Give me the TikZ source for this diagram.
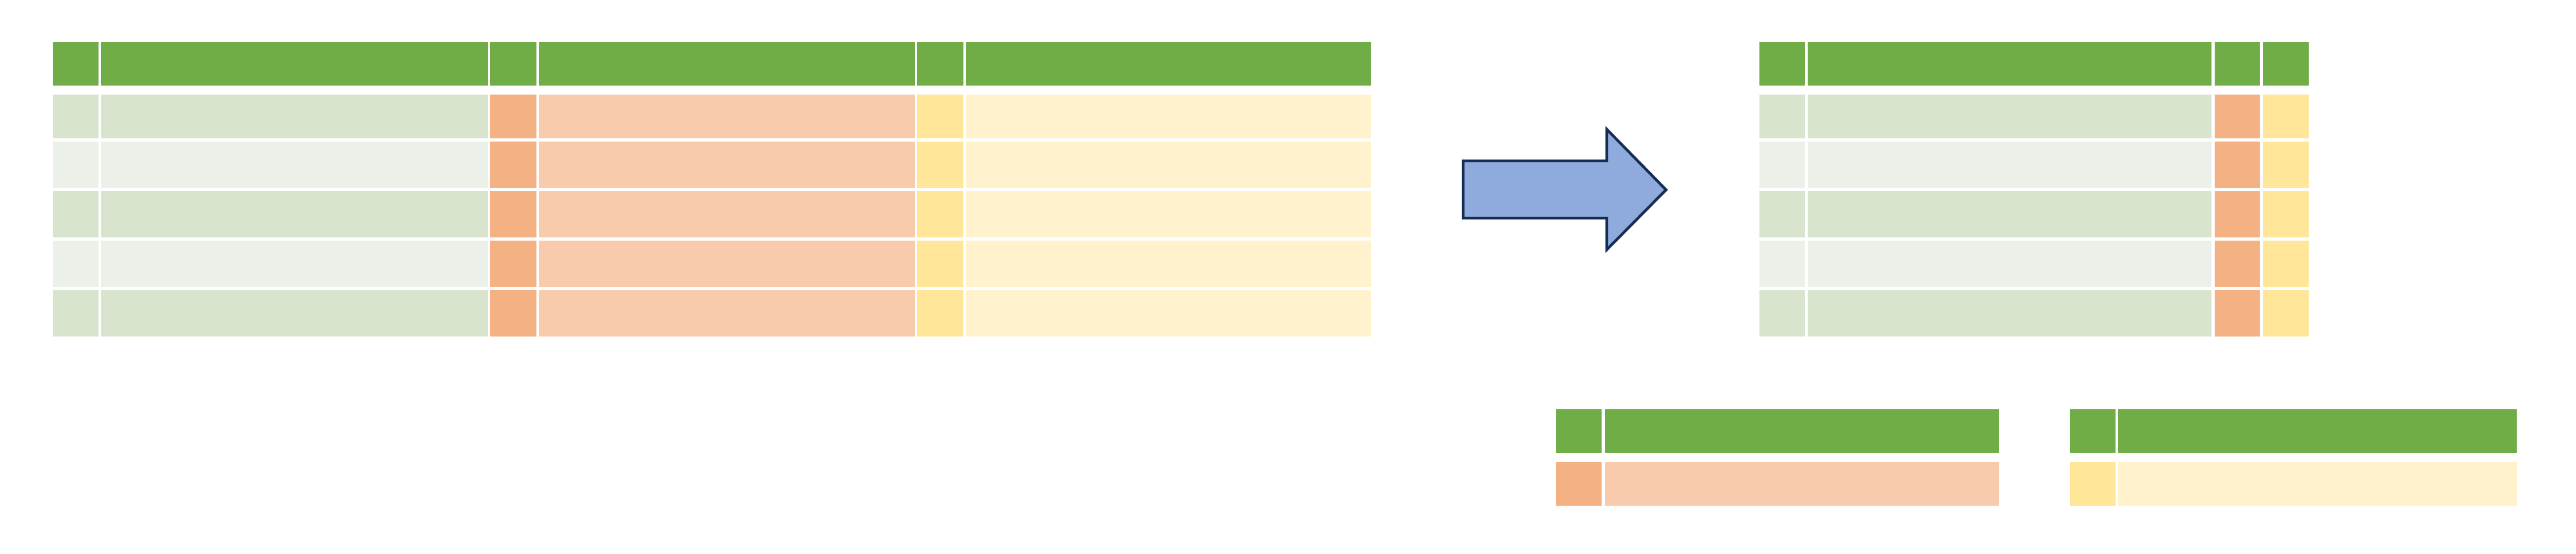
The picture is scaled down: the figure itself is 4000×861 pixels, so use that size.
\documentclass[tikz,border=0pt]{standalone}
\usepackage{xcolor}
\usepackage{tikz}
\definecolor{hdrgreen}{HTML}{70AD47}
\definecolor{bandgreenA}{HTML}{D8E4CE}
\definecolor{bandgreenB}{HTML}{EBF0E8}
\definecolor{keyorange}{HTML}{F4B183}
\definecolor{valorange}{HTML}{F8CBAD}
\definecolor{keyyellow}{HTML}{FFE699}
\definecolor{valyellow}{HTML}{FFF2CC}
\definecolor{arrowfill}{HTML}{8FAADC}
\definecolor{arrowline}{HTML}{172C51}
\tikzset{
    hdrcell/.style={
        fill=hdrgreen
    },
    splitarrow/.style={
        fill=arrowfill,
        draw=arrowline,
        line width=1.2pt,
        line join=miter
    }
}

\begin{document}
\begin{tikzpicture}[x=0.01cm, y=-0.01cm]
\useasboundingbox (0,0) rectangle (4000,861);

% wide table: header
\foreach \xa/\xb in {82/153, 157/758, 761/833, 837/1421, 1424/1496, 1500/2129}
    \fill[hdrcell] (\xa,65) rectangle (\xb,133);
% wide table: rows
\foreach \ya/\yb/\band in {147/215/bandgreenA, 220/292/bandgreenB, 297/369/bandgreenA,
        374/446/bandgreenB, 451/523/bandgreenA}{
    \fill[\band] (82,\ya) rectangle (153,\yb);
    \fill[\band] (157,\ya) rectangle (758,\yb);
    \fill[keyorange] (761,\ya) rectangle (833,\yb);
    \fill[valorange] (837,\ya) rectangle (1421,\yb);
    \fill[keyyellow] (1424,\ya) rectangle (1496,\yb);
    \fill[valyellow] (1500,\ya) rectangle (2129,\yb);
}

% arrow
\draw[splitarrow] (2272,250) -- (2495,250) -- (2495,201) -- (2587,295)
    -- (2495,388) -- (2495,339) -- (2272,339) -- cycle;

% narrow table: header
\foreach \xa/\xb in {2732/2803, 2807/3434, 3439/3509, 3514/3585}
    \fill[hdrcell] (\xa,65) rectangle (\xb,133);
% narrow table: rows
\foreach \ya/\yb/\band in {147/215/bandgreenA, 220/292/bandgreenB, 297/369/bandgreenA,
        374/446/bandgreenB, 451/523/bandgreenA}{
    \fill[\band] (2732,\ya) rectangle (2803,\yb);
    \fill[\band] (2807,\ya) rectangle (3434,\yb);
    \fill[keyorange] (3439,\ya) rectangle (3509,\yb);
    \fill[keyyellow] (3514,\ya) rectangle (3585,\yb);
}

% lookup tables
\foreach \xa/\xb/\xc/\xd/\key/\val in {2416/2487/2492/3104/keyorange/valorange,
        3214/3285/3289/3908/keyyellow/valyellow}{
    \fill[hdrcell] (\xa,636) rectangle (\xb,704);
    \fill[hdrcell] (\xc,636) rectangle (\xd,704);
    \fill[\key] (\xa,718) rectangle (\xb,786);
    \fill[\val] (\xc,718) rectangle (\xd,786);
}
\end{tikzpicture}
\end{document}
